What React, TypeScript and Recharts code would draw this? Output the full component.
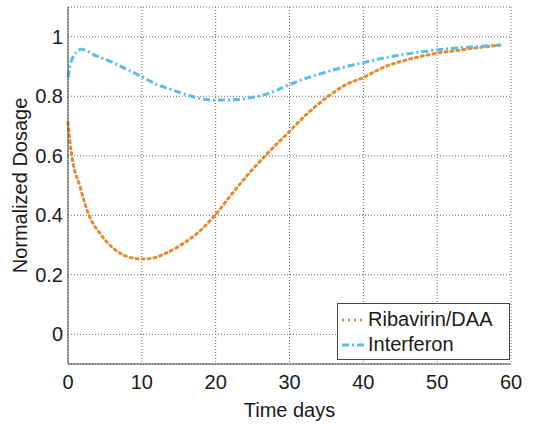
import { LineChart, Line, XAxis, YAxis, CartesianGrid } from "recharts";

const ribaTime = [0, 0.45, 1.6, 2.9, 4.3, 6.1, 7.9, 10, 11.5, 13.3, 15.3, 17.8, 19.9, 22.3, 24.6, 26.9, 29.6, 32.3, 35, 37.7, 40, 42.7, 45.4, 49.4, 53.9, 58.5];
const ribaValues = [0.711, 0.61, 0.498, 0.397, 0.34, 0.29, 0.262, 0.253, 0.256, 0.273, 0.3, 0.346, 0.4, 0.475, 0.543, 0.605, 0.672, 0.739, 0.795, 0.84, 0.863, 0.897, 0.919, 0.942, 0.958, 0.972];

const ifnTime = [0, 0.45, 1.8, 3.8, 6.1, 7.9, 10, 11.7, 13.8, 15.8, 17.8, 19.9, 22.3, 24.4, 26.9, 29.6, 32.3, 34.5, 36.8, 40, 43.1, 47.2, 50.8, 54.9, 58.5];
const ifnValues = [0.863, 0.919, 0.958, 0.936, 0.913, 0.891, 0.866, 0.843, 0.824, 0.807, 0.793, 0.787, 0.788, 0.794, 0.807, 0.835, 0.861, 0.878, 0.894, 0.913, 0.93, 0.947, 0.958, 0.966, 0.972];

const xTicks = [0, 10, 20, 30, 40, 50, 60];
const yTicks = [0, 0.2, 0.4, 0.6, 0.8, 1];

const ribaData = ribaTime.map((t, i) => ({ t, v: ribaValues[i] }));
const ifnData = ifnTime.map((t, i) => ({ t, v: ifnValues[i] }));

const orange = "#e6892c";
const blue = "#5cbce6";
const font = "'Liberation Sans', Arial, sans-serif";
const ink = "#1a1a1a";

function LegendBox() {
  return (
    <div
      style={{
        position: "absolute",
        left: 337,
        top: 303,
        width: 173,
        height: 57,
        border: "1px solid #444",
        background: "#fff",
        fontFamily: font,
        fontSize: 20,
        color: ink,
        boxSizing: "border-box",
        padding: "3px 0 0 4px",
      }}
    >
      <div style={{ display: "flex", alignItems: "center", height: 25 }}>
        <svg width={24} height={10}>
          <line x1={0} y1={5} x2={24} y2={5} stroke={orange} strokeWidth={3} strokeDasharray="2 4" />
        </svg>
        <span style={{ marginLeft: 2 }}>Ribavirin/DAA</span>
      </div>
      <div style={{ display: "flex", alignItems: "center", height: 25 }}>
        <svg width={24} height={10}>
          <line x1={0} y1={5} x2={24} y2={5} stroke={blue} strokeWidth={3} strokeDasharray="7 3 2 3" />
        </svg>
        <span style={{ marginLeft: 2 }}>Interferon</span>
      </div>
    </div>
  );
}

export default function App() {
  return (
    <div style={{ position: "absolute", left: 0, top: 0, width: 541, height: 425, background: "#fff" }}>
      <LineChart width={541} height={425} margin={{ top: 7, right: 30, bottom: 0, left: 0 }}>
        <CartesianGrid stroke="#666" strokeDasharray="1 2" strokeWidth={1} />
        <XAxis
          type="number"
          dataKey="t"
          domain={[0, 60]}
          ticks={xTicks}
          height={61}
          stroke="#444"
          tickLine={false}
          tick={{ fill: ink, fontSize: 20, fontFamily: font, dy: 3 }}
          allowDuplicatedCategory={false}
          label={{ value: "Time days", position: "insideBottom", offset: 8, fill: ink, fontSize: 20, fontFamily: font }}
        />
        <XAxis xAxisId="top" orientation="top" type="number" domain={[0, 60]} height={0} tick={false} tickLine={false} stroke="#444" />
        <YAxis
          type="number"
          domain={[-0.1, 1.1]}
          ticks={yTicks}
          width={68}
          stroke="#444"
          tickLine={false}
          tickFormatter={(v: number) => String(v)}
          tick={{ fill: ink, fontSize: 20, fontFamily: font, dx: 3 }}
          label={{ value: "Normalized Dosage", angle: -90, position: "insideLeft", offset: 20, fill: ink, fontSize: 20, fontFamily: font, style: { textAnchor: "middle" } }}
        />
        <YAxis yAxisId="right" orientation="right" domain={[-0.1, 1.1]} width={0} tick={false} tickLine={false} stroke="#444" />
        <Line
          data={ribaData}
          dataKey="v"
          type="monotone"
          stroke={orange}
          strokeWidth={3}
          strokeDasharray="2 4"
          strokeLinecap="round"
          dot={false}
          isAnimationActive={false}
        />
        <Line
          data={ifnData}
          dataKey="v"
          type="monotone"
          stroke={blue}
          strokeWidth={3}
          strokeDasharray="7 3 2 3"
          dot={false}
          isAnimationActive={false}
        />
      </LineChart>
      <LegendBox />
    </div>
  );
}
